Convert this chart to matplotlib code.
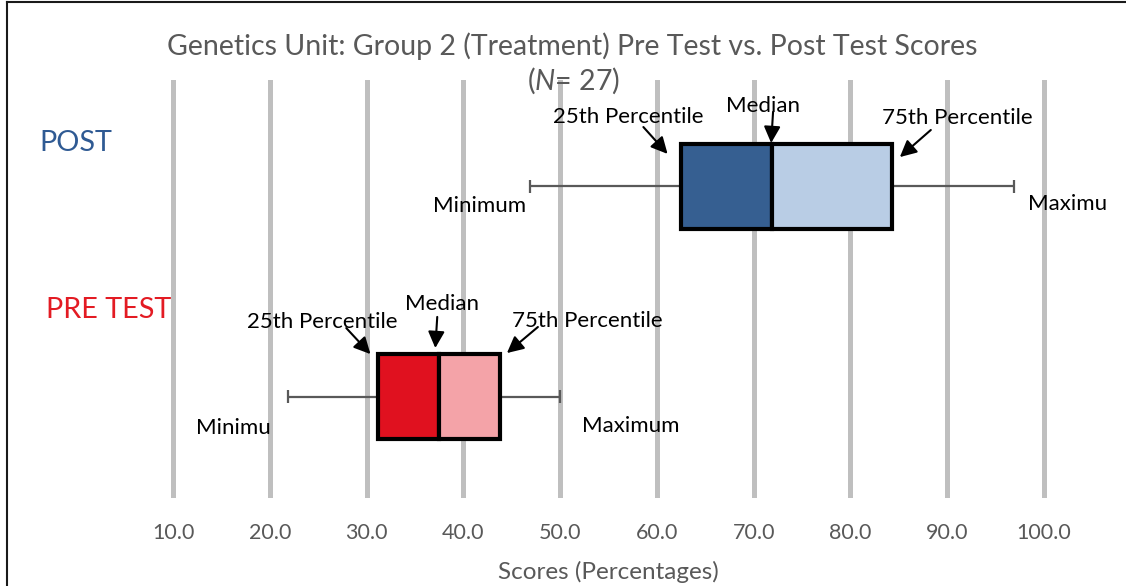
import matplotlib
matplotlib.use("Agg")
import matplotlib.pyplot as plt
from matplotlib.lines import Line2D

plt.rcParams['font.family'] = ['Lato', 'DejaVu Sans']
plt.rcParams['mathtext.fontset'] = 'custom'
plt.rcParams['mathtext.it'] = 'Lato:italic'
plt.rcParams['mathtext.rm'] = 'Lato'

# Five-number summaries
groups = ["PRE TEST", "POST"]
minimum = [21.9, 46.9]
q1 = [31.2, 62.5]
median = [37.5, 71.9]
q3 = [43.8, 84.3]
maximum = [50.0, 96.9]
ticks = [10, 20, 30, 40, 50, 60, 70, 80, 90, 100]

dark = ["#E0111F", "#365F91"]
light = ["#F4A3A8", "#B9CDE5"]
label_colors = ["#E31B23", "#2F5A93"]

fig = plt.figure(figsize=(11.26, 5.86), dpi=100)
ax = fig.add_axes([0.1107, 0.1502, 0.8595, 0.7133])
ax.set_xlim(5, 105)
ax.set_ylim(-0.483, 1.507)

box_h = 0.405
for i in range(len(groups)):
    # whiskers
    ax.hlines(i, minimum[i], q1[i], color="#595959", lw=1.6, zorder=2)
    ax.hlines(i, q3[i], maximum[i], color="#595959", lw=1.6, zorder=2)
    ax.vlines([minimum[i], maximum[i]], i - 0.03, i + 0.03, color="#595959", lw=1.6, zorder=2)
    # box halves
    ax.barh(i, median[i] - q1[i], left=q1[i], height=box_h, color=dark[i],
            edgecolor="black", linewidth=3, zorder=3)
    ax.barh(i, q3[i] - median[i], left=median[i], height=box_h, color=light[i],
            edgecolor="black", linewidth=3, zorder=3)

ax.set_xticks(ticks)
ax.set_xticklabels([f"{t:.1f}" for t in ticks], fontsize=15.5, color="#595959")
ax.set_yticks([])
ax.tick_params(axis="x", length=0, pad=18)
ax.xaxis.grid(True, color="#BFBFBF", linewidth=3.6)
ax.set_axisbelow(True)
for s in ax.spines.values():
    s.set_visible(False)
ax.set_xlabel("Scores (Percentages)", fontsize=17.5, color="#595959", labelpad=13)

# annotation layout: (text, text x, text y, arrow tail, arrow head)
post_notes = [("25th Percentile", 57.0, 1.332, (58.6, 1.283), (61.1, 1.155)),
              ("Median", 71.0, 1.385, (72.0, 1.355), (71.8, 1.207)),
              ("75th Percentile", 91.0, 1.326, (88.3, 1.269), (85.1, 1.140))]
pre_notes = [("25th Percentile", 25.4, 0.355, (27.9, 0.326), (30.4, 0.202)),
             ("Median", 37.8, 0.440, (37.3, 0.379), (37.1, 0.231)),
             ("75th Percentile", 52.8, 0.360, (47.7, 0.331), (44.5, 0.207))]

fs = 16
for txt, tx, ty, tail, head in post_notes + pre_notes:
    ax.text(tx, ty, txt, fontsize=fs, ha="center", va="center", color="black", zorder=5)
    ax.annotate("", xy=head, xytext=tail,
                arrowprops=dict(arrowstyle="-|>,head_length=1.0,head_width=0.5",
                                color="black", lw=1.5, shrinkA=0, shrinkB=0))

ax.text(41.7, 0.905, "Minimum", fontsize=fs, ha="center", va="center")
ax.text(102.4, 0.915, "Maximu", fontsize=fs, ha="center", va="center", clip_on=False)
ax.text(16.2, -0.15, "Minimu", fontsize=fs, ha="center", va="center")
ax.text(57.3, -0.14, "Maximum", fontsize=fs, ha="center", va="center")

ax.text(0.0, 1.205, "POST", fontsize=20.7, ha="center", va="center", color=label_colors[1])
ax.text(3.3, 0.41, "PRE TEST", fontsize=20.7, ha="center", va="center", color=label_colors[0])

fig.text(572 / 1126, 1 - 46 / 586, "Genetics Unit: Group 2 (Treatment) Pre Test vs. Post Test Scores",
         fontsize=20.5, color="#595959", ha="center", va="center")
fig.text(574 / 1126, 1 - 81 / 586, r"$\mathit{(N}$= 27)",
         fontsize=20.5, color="#595959", ha="center", va="center")

# chart frame edges
fig.add_artist(Line2D([7 / 1126, 7 / 1126], [0, 1 - 2 / 586], transform=fig.transFigure,
                      color="#1A1A1A", lw=1.5))
fig.add_artist(Line2D([7 / 1126, 1], [1 - 2 / 586, 1 - 2 / 586], transform=fig.transFigure,
                      color="#1A1A1A", lw=1.5))

fig.savefig("out.png", dpi=100)
